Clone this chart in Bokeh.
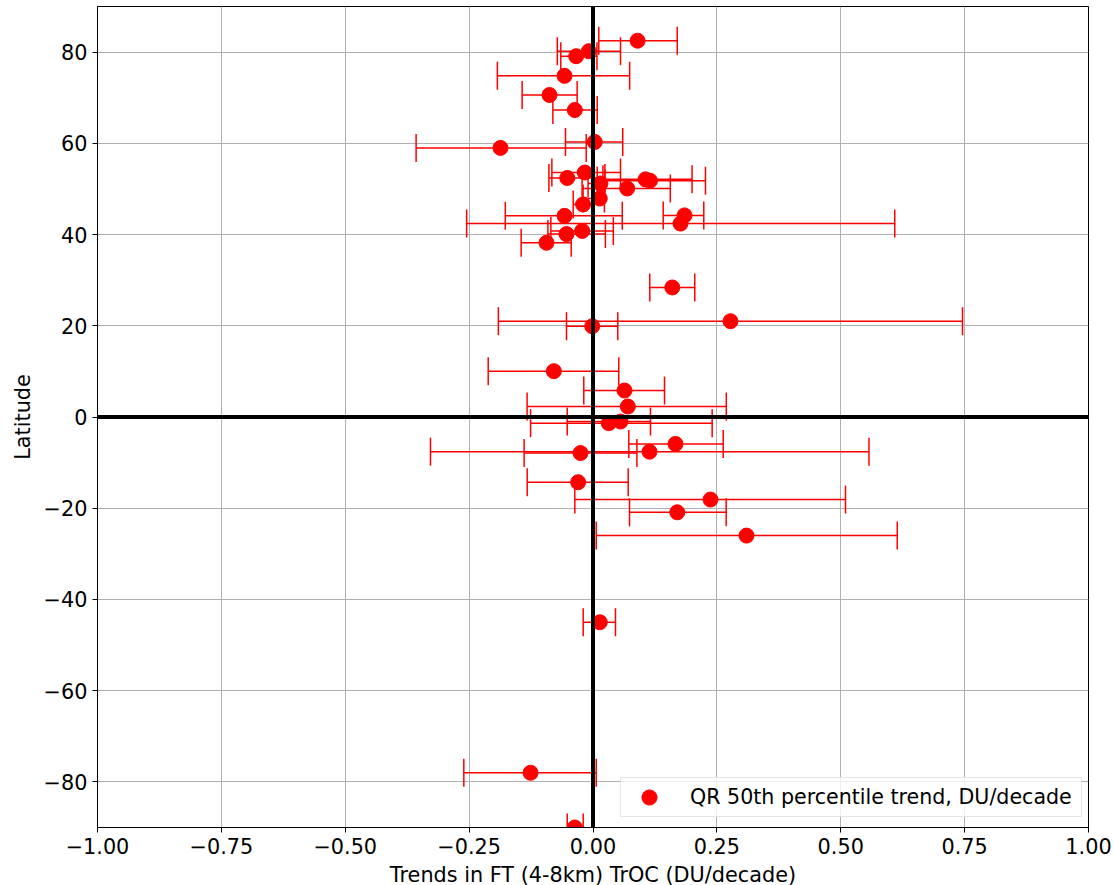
from bokeh.plotting import figure
from bokeh.models import (ColumnDataSource, Whisker, TeeHead, Span, FixedTicker,
                          Legend, LegendItem, Range1d)
from bokeh.embed import file_html
from bokeh.resources import INLINE

# ---- data ----
lat = [82.5, 80.2, 79.1, 74.8, 70.6, 67.3, 59.0, 60.3, 52.4, 53.6,
       52.1, 51.8, 51.2, 50.1, 47.9, 46.6, 44.1, 44.2, 42.4, 40.1,
       40.8, 38.2, 28.4, 21.0, 19.9, 10.05, 5.8, 2.3, -1.35, -1.0,
       -7.9, -7.6, -5.9, -14.3, -18.1, -20.9, -26.0, -45.0, -78.0, -90.0]
trend = [0.090, -0.0085, -0.034, -0.0575, -0.0878, -0.0367, -0.1867, 0.0036, -0.052, -0.0165,
         0.106, 0.115, 0.015, 0.069, 0.0137, -0.020, -0.0575, 0.1847, 0.1766, -0.0535,
         -0.0218, -0.0938, 0.160, 0.2775, -0.0016, -0.079, 0.0636, 0.0703, 0.0319, 0.0555,
         -0.0252, 0.114, 0.1665, -0.030, 0.2371, 0.170, 0.3098, 0.0137, -0.126, -0.0367]
lower = [0.0117, -0.072, -0.065, -0.193, -0.143, -0.081, -0.357, -0.0555, -0.089, -0.083,
         0.02, 0.0085, -0.01, -0.022, -0.02, -0.04, -0.177, 0.1417, -0.255, -0.091,
         -0.085, -0.145, 0.1146, -0.191, -0.0535, -0.2115, -0.0186, -0.133, -0.126, -0.052,
         -0.139, -0.328, 0.0723, -0.1328, -0.0367, 0.0737, 0.0065, -0.0198, -0.2607, -0.052]
upper = [0.170, 0.0555, 0.008, 0.074, -0.032, 0.0085, -0.0137, 0.060, 0.024, 0.0555,
         0.20, 0.227, 0.024, 0.156, 0.023, 0.0, 0.059, 0.2236, 0.609, 0.025,
         0.041, -0.044, 0.2054, 0.7457, 0.050, 0.052, 0.1443, 0.269, 0.2405, 0.116,
         0.0886, 0.557, 0.2628, 0.071, 0.5096, 0.2688, 0.614, 0.0454, 0.0065, -0.0198]

x_ticks = [-1.0, -0.75, -0.5, -0.25, 0.0, 0.25, 0.5, 0.75, 1.0]
y_ticks = [-80, -60, -40, -20, 0, 20, 40, 60, 80]

legend_label = "QR 50th percentile trend, DU/decade"
x_label = "Trends in FT (4-8km) TrOC (DU/decade)"
y_label = "Latitude"

FONT = "DejaVu Sans"
FS = "20.8px"

src = ColumnDataSource(dict(lat=lat, trend=trend, lower=lower, upper=upper))

p = figure(frame_width=991, frame_height=821,
           x_range=Range1d(-1, 1), y_range=Range1d(-90, 90),
           output_backend="svg", toolbar_location=None,
           min_border_left=97, min_border_right=26,
           min_border_top=6, min_border_bottom=56)

p.background_fill_color = "white"
p.outline_line_color = "black"
p.outline_line_width = 1

# grid
for g in (p.xgrid, p.ygrid):
    g.grid_line_color = "#b0b0b0"
    g.grid_line_width = 1
p.xgrid.ticker = FixedTicker(ticks=x_ticks)
p.ygrid.ticker = FixedTicker(ticks=y_ticks)

# axes
def fmt_x(v):
    return f"{v:.2f}".replace("-", "\u2212")

p.xaxis.ticker = FixedTicker(ticks=x_ticks)
p.yaxis.ticker = FixedTicker(ticks=y_ticks)
p.xaxis.major_label_overrides = {v: fmt_x(v) for v in x_ticks}
p.yaxis.major_label_overrides = {v: str(v).replace("-", "\u2212") for v in y_ticks}
for ax in (p.xaxis, p.yaxis):
    ax.axis_line_color = "black"
    ax.axis_line_width = 1
    ax.major_tick_in = 0
    ax.major_tick_out = 5
    ax.minor_tick_line_color = None
    ax.major_tick_line_color = "black"
    ax.major_label_text_font = FONT
    ax.major_label_text_font_size = FS
    ax.major_label_text_color = "black"
    ax.axis_label_text_font = FONT
    ax.axis_label_text_font_size = FS
    ax.axis_label_text_font_style = "normal"
    ax.axis_label_text_color = "black"
    ax.major_label_standoff = 5
    ax.axis_label_standoff = 6
p.xaxis.axis_label = x_label
p.yaxis.axis_label = y_label

# zero lines
p.add_layout(Span(location=0, dimension="height", line_color="black", line_width=4))
p.add_layout(Span(location=0, dimension="width", line_color="black", line_width=4))

# error bars
wh = Whisker(source=src, base="lat", lower="lower", upper="upper", dimension="width",
             line_color="red", line_width=1.5,
             lower_head=TeeHead(size=28, line_color="red", line_width=1.5),
             upper_head=TeeHead(size=28, line_color="red", line_width=1.5))
p.add_layout(wh)

# markers
r = p.scatter("trend", "lat", source=src, size=15, color="red", marker="circle")

legend = Legend(items=[LegendItem(label=legend_label, renderers=[r])],
                location=(523, 10))
legend.label_text_font = FONT
legend.label_text_font_size = "20.6px"
legend.label_text_color = "black"
legend.glyph_width = 56
legend.glyph_height = 38
legend.label_height = 38
legend.label_standoff = 13
legend.label_width = 391
legend.padding = 0
legend.spacing = 0
legend.margin = 0
legend.border_line_color = "#cccccc"
legend.border_line_width = 1
legend.background_fill_alpha = 0.8
p.add_layout(legend)

open("out.html", "w").write(file_html(p, INLINE))
